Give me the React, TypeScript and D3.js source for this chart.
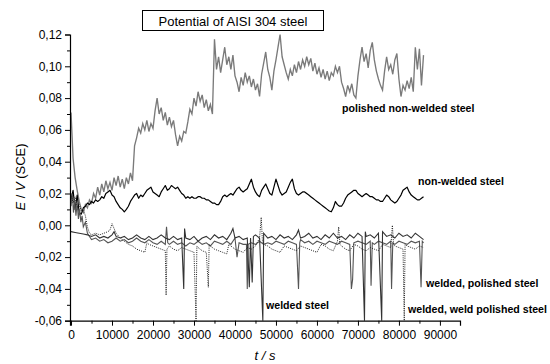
import React, { useEffect, useRef } from "react";
import * as d3 from "d3";

const W = 550;
const H = 364;

// axis ticks
const xTicks = [0, 10000, 20000, 30000, 40000, 50000, 60000, 70000, 80000, 90000];
const xMinorTicks = [5000, 15000, 25000, 35000, 45000, 55000, 65000, 75000, 85000];
const yTicks = [-0.06, -0.04, -0.02, 0, 0.02, 0.04, 0.06, 0.08, 0.1, 0.12];
const yMinorTicks = [-0.05, -0.03, -0.01, 0.01, 0.03, 0.05, 0.07, 0.09, 0.11];

// the two upper curves were read every 500 s
const sampleStep = 500;

// polished non-welded steel (E / V vs SCE)
const polishedNonWelded = [
  0.071, 0.042, 0.030, 0.022, 0.015, 0.010, 0.008, 0.013, 0.011, 0.016, 0.014, 0.020, 0.017, 0.024, 0.019, 0.026,
  0.021, 0.028, 0.023, 0.027, 0.022, 0.030, 0.025, 0.031, 0.024, 0.029, 0.023, 0.030, 0.026, 0.033, 0.028,
  0.050, 0.055, 0.061, 0.058, 0.064, 0.060, 0.066, 0.059, 0.064, 0.061, 0.072, 0.080, 0.070, 0.074, 0.066, 0.071,
  0.063, 0.068, 0.062, 0.066, 0.057, 0.050, 0.056, 0.053, 0.059, 0.058, 0.065, 0.073, 0.070, 0.080, 0.075, 0.084,
  0.078, 0.082, 0.074, 0.079, 0.072, 0.076, 0.070,
  0.117, 0.098, 0.106, 0.096, 0.104, 0.112, 0.101, 0.106, 0.098, 0.107, 0.094, 0.090, 0.084, 0.093, 0.088, 0.096,
  0.090, 0.094, 0.087, 0.092, 0.085, 0.089, 0.081, 0.095, 0.102, 0.109, 0.098, 0.093, 0.085, 0.097, 0.104, 0.112,
  0.120, 0.106, 0.101, 0.096, 0.092, 0.098, 0.094, 0.101, 0.096, 0.103, 0.098, 0.104, 0.100, 0.106, 0.101, 0.105,
  0.097, 0.102, 0.095, 0.099, 0.093, 0.098, 0.092, 0.097, 0.091, 0.096, 0.094, 0.100, 0.096, 0.100, 0.090, 0.086,
  0.081, 0.088, 0.084, 0.089, 0.082, 0.080, 0.094, 0.104, 0.112, 0.103, 0.108, 0.099, 0.110, 0.115, 0.104, 0.097,
  0.092, 0.088, 0.085, 0.097, 0.106, 0.098, 0.101, 0.095, 0.104, 0.108, 0.092, 0.081, 0.088, 0.085, 0.091, 0.086,
  0.093, 0.084, 0.112, 0.098, 0.111, 0.088, 0.107,
];

// non-welded steel
const nonWelded = [
  0.016, 0.022, 0.010, 0.019, 0.008, 0.007, 0.011, 0.012, 0.014, 0.013, 0.015, 0.014, 0.016, 0.015, 0.016, 0.018,
  0.017, 0.020, 0.021, 0.022, 0.019, 0.018, 0.015, 0.013, 0.011, 0.010, 0.0085, 0.010, 0.012, 0.015, 0.017, 0.019,
  0.020, 0.017, 0.019, 0.018, 0.020, 0.022, 0.023, 0.024, 0.021, 0.020, 0.019, 0.018, 0.021, 0.023, 0.025, 0.022,
  0.023, 0.025, 0.024, 0.023, 0.024, 0.022, 0.020, 0.019, 0.017, 0.018, 0.017, 0.018, 0.017, 0.017, 0.018, 0.018,
  0.017, 0.017, 0.016, 0.016, 0.015, 0.014, 0.014, 0.013, 0.013, 0.015, 0.018, 0.019, 0.018, 0.019, 0.020, 0.019,
  0.021, 0.023, 0.024, 0.022, 0.021, 0.022, 0.023, 0.026, 0.029, 0.024, 0.021, 0.019, 0.018, 0.022, 0.024, 0.026,
  0.023, 0.020, 0.019, 0.024, 0.029, 0.025, 0.021, 0.019, 0.020, 0.021, 0.024, 0.027, 0.029, 0.023, 0.020, 0.019,
  0.020, 0.021, 0.021, 0.020, 0.019, 0.018, 0.017, 0.016, 0.015, 0.014, 0.013, 0.012, 0.011, 0.010, 0.009, 0.0085,
  0.011, 0.015, 0.013, 0.012, 0.012, 0.014, 0.017, 0.019, 0.020, 0.021, 0.022, 0.022, 0.020, 0.019, 0.018, 0.019,
  0.020, 0.019, 0.018, 0.018, 0.017, 0.016, 0.016, 0.015, 0.015, 0.017, 0.019, 0.018, 0.016, 0.015, 0.014, 0.015,
  0.017, 0.019, 0.022, 0.023, 0.024, 0.021, 0.019, 0.018, 0.017, 0.016, 0.016, 0.017, 0.018,
];

// welded steel [t / s, E / V]
const welded: [number, number][] = [
  [0, -0.004], [1000, -0.0045], [2000, -0.005], [3000, -0.0055], [4000, -0.006], [5000, -0.007], [6000, -0.006],
  [7000, -0.008], [8000, -0.007], [9000, -0.008], [10000, -0.006], [10500, -0.004], [11000, -0.007], [12000, -0.008],
  [13000, -0.007], [14000, -0.009], [15000, -0.008], [16000, -0.006], [17000, -0.008], [18000, -0.009], [19000, -0.007],
  [20000, -0.009], [21000, -0.008], [22000, -0.006], [23000, -0.008], [24000, -0.009], [25000, -0.007], [26000, -0.009],
  [27000, -0.008], [27500, -0.04], [27700, -0.002], [28000, -0.008], [29000, -0.009], [30000, -0.007], [31000, -0.01],
  [32000, -0.008], [33000, -0.007], [34000, -0.009], [35000, -0.006], [36000, -0.008], [37000, -0.007], [38000, -0.009],
  [39000, -0.005], [39500, -0.002], [40000, -0.008], [41000, -0.007], [42000, -0.009], [43000, -0.008], [43500, -0.039],
  [43800, -0.008], [44200, -0.036], [44500, -0.007], [45000, -0.006], [46000, -0.008], [46800, -0.06], [47000, -0.005],
  [48000, -0.008], [49000, -0.007], [50000, -0.009], [51000, -0.006], [52000, -0.008], [53000, -0.007], [54000, -0.009],
  [55000, -0.006], [55500, -0.003], [56000, -0.008], [57000, -0.007], [58000, -0.005], [59000, -0.008], [60000, -0.007],
  [61000, -0.009], [62000, -0.006], [63000, -0.008], [64000, -0.005], [65000, -0.008], [66000, -0.007], [67000, -0.009],
  [68000, -0.006], [69000, -0.008], [70000, -0.005], [71000, -0.007], [71600, -0.06], [71800, -0.004], [72000, -0.007],
  [73000, -0.006], [74000, -0.008], [75000, -0.005], [75800, -0.06], [76000, -0.004], [77000, -0.007], [78000, -0.006],
  [79000, -0.008], [80000, -0.005], [81000, -0.007], [82000, -0.006], [83000, -0.008], [84000, -0.005], [85000, -0.007],
  [86000, -0.009],
];

// welded, polished steel
const weldedPolished: [number, number][] = [
  [0, 0.012], [300, 0.02], [600, 0.008], [900, 0.016], [1200, 0.006], [1500, 0.014], [1800, 0.004], [2100, 0.01],
  [2400, 0.002], [2700, 0.006], [3000, -0.001], [3500, 0.002], [4000, -0.005], [4500, -0.007], [5000, -0.009],
  [6000, -0.008], [7000, -0.01], [8000, -0.009], [9000, -0.011], [10000, -0.01], [11000, -0.008], [12000, -0.01],
  [13000, -0.009], [14000, -0.011], [15000, -0.01], [16000, -0.008], [17000, -0.01], [18000, -0.011], [19000, -0.009],
  [20000, -0.011], [21000, -0.012], [22000, -0.01], [23000, -0.012], [23300, -0.001], [23600, -0.011], [24000, -0.012],
  [25000, -0.01], [26000, -0.012], [27000, -0.011], [28000, -0.013], [29000, -0.011], [30000, -0.012], [31000, -0.01],
  [32000, -0.012], [33000, -0.011], [34000, -0.013], [35000, -0.01], [36000, -0.011], [37000, -0.012], [38000, -0.01],
  [39000, -0.012], [40000, -0.008], [40500, -0.02], [41000, -0.011], [42000, -0.012], [42800, -0.012], [43000, -0.04],
  [43200, -0.012], [44000, -0.011], [45000, -0.012], [46000, -0.01], [47000, -0.012], [48000, -0.011], [49000, -0.012],
  [50000, -0.01], [51000, -0.011], [52000, -0.012], [53000, -0.01], [54000, -0.011], [55000, -0.012], [55500, -0.04],
  [55800, -0.011], [56000, -0.009], [57000, -0.011], [58000, -0.01], [59000, -0.012], [60000, -0.01], [61000, -0.011],
  [62000, -0.012], [63000, -0.01], [64000, -0.011], [65000, -0.012], [66000, -0.01], [67000, -0.011], [68000, -0.012],
  [68400, -0.04], [68700, -0.034], [69000, -0.011], [70000, -0.01], [71000, -0.011], [72000, -0.012], [73000, -0.01],
  [73200, -0.038], [73500, -0.011], [74000, -0.012], [75000, -0.01], [76000, -0.011], [77000, -0.012], [78000, -0.01],
  [78200, -0.04], [78500, -0.011], [79000, -0.012], [80000, -0.01], [81000, -0.011], [82000, -0.012], [83000, -0.01],
  [84000, -0.011], [85000, -0.01], [85400, -0.039], [85700, -0.01], [86000, -0.011],
];

// welded, weld polished steel
const weldedWeldPolished: [number, number][] = [
  [0, 0.02], [500, 0.014], [1000, 0.018], [1500, 0.011], [2000, 0.013], [2500, 0.009], [3000, 0.01], [3500, 0.006],
  [4000, -0.001], [4500, -0.005], [5000, -0.006], [6000, -0.005], [7000, -0.006], [8000, -0.005], [9000, -0.004],
  [9500, -0.003], [10000, 0.001], [10500, -0.002], [11000, -0.005], [12000, -0.008], [13000, -0.01], [14000, -0.012],
  [15000, -0.013], [16000, -0.015], [17000, -0.016], [18000, -0.017], [18500, -0.011], [19000, -0.012], [20000, -0.013],
  [21000, -0.014], [22000, -0.015], [23000, -0.016], [23200, -0.044], [23400, -0.015], [24000, -0.013], [25000, -0.015],
  [26000, -0.016], [27000, -0.014], [28000, -0.015], [29000, -0.016], [30000, -0.017], [30500, -0.06], [30700, -0.013],
  [31000, -0.014], [32000, -0.016], [33000, -0.017], [33500, -0.039], [33700, -0.012], [34000, -0.013], [35000, -0.015],
  [36000, -0.016], [37000, -0.017], [38000, -0.018], [38500, -0.012], [39000, -0.013], [40000, -0.015], [41000, -0.016],
  [42000, -0.017], [43000, -0.014], [44000, -0.015], [45000, -0.013], [46000, -0.008], [46400, 0.005], [46700, -0.01],
  [47000, -0.012], [48000, -0.013], [49000, -0.015], [50000, -0.016], [51000, -0.017], [52000, -0.013], [53000, -0.014],
  [54000, -0.015], [55000, -0.016], [56000, -0.013], [57000, -0.014], [58000, -0.015], [59000, -0.016], [60000, -0.017],
  [61000, -0.012], [62000, -0.013], [63000, -0.015], [64000, -0.016], [65000, -0.01], [65300, -0.001], [65600, -0.012],
  [66000, -0.013], [67000, -0.015], [68000, -0.016], [69000, -0.012], [70000, -0.013], [71000, -0.015], [72000, -0.016],
  [73000, -0.014], [74000, -0.015], [75000, -0.016], [76000, -0.012], [77000, -0.013], [78000, -0.014], [78400, 0.0],
  [78700, -0.012], [79000, -0.013], [80000, -0.014], [81000, -0.015], [81300, -0.06], [81500, -0.012], [82000, -0.013],
  [83000, -0.014], [84000, -0.015], [85000, -0.013], [86000, -0.014],
];

const FONT = "Arial, 'Liberation Sans', Helvetica, sans-serif";

const fmtY = (v: number) => {
  const s = Math.abs(v) < 1e-9 ? "0.00" : v.toFixed(2);
  return s.replace(".", ",");
};

const App: React.FC = () => {
  const svgRef = useRef<SVGSVGElement | null>(null);

  useEffect(() => {
    if (!svgRef.current) return;
    const svg = d3.select(svgRef.current);
    svg.selectAll("*").remove();

    const x = d3.scaleLinear().domain([-250, 94900]).range([70, 460]);
    const y = d3.scaleLinear().domain([-0.06, 0.12]).range([320.7, 34.5]);

    const line = d3
      .line<[number, number]>()
      .x((d) => x(d[0]))
      .y((d) => y(d[1]));

    const toPairs = (vals: number[]) => vals.map((v, i) => [i * sampleStep, v] as [number, number]);

    const plot = svg.append("g");
    plot.append("path").datum(toPairs(polishedNonWelded)).attr("d", line)
      .attr("fill", "none").attr("stroke", "#7a7a7a").attr("stroke-width", 1.35).attr("stroke-linejoin", "miter");
    plot.append("path").datum(toPairs(nonWelded)).attr("d", line)
      .attr("fill", "none").attr("stroke", "#000").attr("stroke-width", 1.2).attr("stroke-linejoin", "round");
    plot.append("path").datum(weldedPolished).attr("d", line)
      .attr("fill", "none").attr("stroke", "#555").attr("stroke-width", 1.1);
    plot.append("path").datum(welded).attr("d", line)
      .attr("fill", "none").attr("stroke", "#333").attr("stroke-width", 1.1);
    plot.append("path").datum(weldedWeldPolished).attr("d", line)
      .attr("fill", "none").attr("stroke", "#222").attr("stroke-width", 1).attr("stroke-dasharray", "1,1.2");

    // axes
    const styleAxis = (g: d3.Selection<SVGGElement, unknown, null, undefined>) => {
      g.select(".domain").attr("stroke", "#000").attr("stroke-width", 1.2);
      g.selectAll(".tick line").attr("stroke", "#000").attr("stroke-width", 1);
      g.selectAll(".tick text").attr("fill", "#000").attr("font-family", FONT).attr("font-size", "12px");
    };

    const yAxis = svg.append("g").attr("transform", "translate(70,0)");
    yAxis.call(d3.axisLeft(y).tickValues(yTicks).tickSize(5).tickPadding(3).tickFormat((d) => fmtY(Number(d))));
    styleAxis(yAxis);
    const yMinor = svg.append("g").attr("transform", "translate(70,0)");
    yMinor.call(d3.axisLeft(y).tickValues(yMinorTicks).tickSize(3).tickFormat(() => ""));
    yMinor.select(".domain").remove();
    yMinor.selectAll(".tick line").attr("stroke", "#000");

    const xAxis = svg.append("g").attr("transform", "translate(0,320.7)");
    xAxis.call(d3.axisBottom(x).tickValues(xTicks).tickSize(5).tickPadding(5).tickFormat((d) => String(d)));
    styleAxis(xAxis);
    const xMinor = svg.append("g").attr("transform", "translate(0,320.7)");
    xMinor.call(d3.axisBottom(x).tickValues(xMinorTicks).tickSize(3).tickFormat(() => ""));
    xMinor.select(".domain").remove();
    xMinor.selectAll(".tick line").attr("stroke", "#000");

    // axis titles
    const yt = svg.append("text").attr("transform", "translate(25,177) rotate(-90)")
      .attr("text-anchor", "middle").attr("font-family", FONT).attr("font-size", "13px");
    yt.append("tspan").attr("font-style", "italic").text("E");
    yt.append("tspan").text(" / ");
    yt.append("tspan").attr("font-style", "italic").text("V");
    yt.append("tspan").text(" (SCE)");

    svg.append("text").attr("x", 265).attr("y", 360).attr("text-anchor", "middle")
      .attr("font-family", FONT).attr("font-size", "13px").attr("font-style", "italic").text("t / s");

    // title box
    svg.append("rect").attr("x", 142.5).attr("y", 10.5).attr("width", 181).attr("height", 20)
      .attr("fill", "#fff").attr("stroke", "#000").attr("stroke-width", 1);
    svg.append("text").attr("x", 233).attr("y", 25.5).attr("text-anchor", "middle")
      .attr("font-family", FONT).attr("font-size", "13px").text("Potential of AISI 304 steel");

    // curve labels
    const labels: [string, number, number][] = [
      ["polished non-welded steel", 342, 111.5],
      ["non-welded steel", 418, 185],
      ["welded, polished steel", 426, 286.5],
      ["welded steel", 266, 309],
      ["welded, weld polished steel", 408, 313],
    ];
    svg.selectAll(".lbl").data(labels).join("text").attr("class", "lbl")
      .attr("x", (d) => d[1]).attr("y", (d) => d[2])
      .attr("font-family", FONT).attr("font-size", "10.6px").attr("font-weight", "bold")
      .text((d) => d[0]);
  }, []);

  return (
    <svg
      ref={svgRef}
      width={W}
      height={H}
      style={{ position: "absolute", left: 0, top: 0, background: "#fff" }}
    />
  );
};

export default App;
